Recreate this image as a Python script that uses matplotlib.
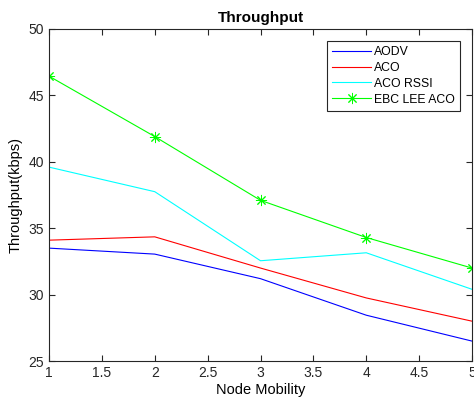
import matplotlib
matplotlib.use("Agg")
import matplotlib.pyplot as plt

plt.rcParams['font.family'] = ['Liberation Sans', 'DejaVu Sans']

mobility = [1, 2, 3, 4, 5]
aodv = [33.5, 33.05, 31.2, 28.45, 26.5]
aco = [34.1, 34.35, 32.0, 29.75, 28.0]
aco_rssi = [39.6, 37.75, 32.55, 33.15, 30.4]
ebc_lee_aco = [46.45, 41.9, 37.1, 34.3, 32.0]


def main():
    fig = plt.figure(figsize=(4.74, 4.05), dpi=100)
    ax = fig.add_axes([0.1034, 0.1086, 0.8924, 0.8198])

    ax.plot(mobility, aodv, color='#0000ff', lw=0.8, label='AODV')
    ax.plot(mobility, aco, color='#ff0000', lw=0.8, label='ACO')
    ax.plot(mobility, aco_rssi, color='#00ffff', lw=0.8, label='ACO RSSI')
    # matlab style '*' marker: 8-spoke asterisk
    ax.plot(mobility, ebc_lee_aco, color='#00ff00', lw=0.8, marker=(8, 2, 0),
            markersize=8, markeredgewidth=0.7, label='EBC LEE ACO')

    ax.set_xlim(1, 5)
    ax.set_ylim(25, 50)
    ax.set_xticks([1, 1.5, 2, 2.5, 3, 3.5, 4, 4.5, 5])
    ax.set_xticklabels(['1', '1.5', '2', '2.5', '3', '3.5', '4', '4.5', '5'])
    ax.set_yticks([25, 30, 35, 40, 45, 50])
    ax.tick_params(direction='in', top=True, right=True, labelsize=10,
                   length=4, width=0.8, colors='#262626')
    for s in ax.spines.values():
        s.set_linewidth(0.8)
        s.set_color('#262626')

    ax.set_xlabel('Node Mobility', fontsize=10.5, labelpad=2)
    ax.set_ylabel('Throughput(kbps)', fontsize=10.5, labelpad=4)
    ax.set_title('Throughput', fontsize=11, fontweight='bold', pad=5)

    leg = ax.legend(loc='upper right', bbox_to_anchor=(460 / 474, 1 - 41 / 405),
                    bbox_transform=fig.transFigure, borderaxespad=0,
                    fontsize=8.8, fancybox=False, framealpha=1,
                    edgecolor='#262626', handlelength=3.2,
                    borderpad=0.4, labelspacing=0.32, handletextpad=0.25)
    leg.get_frame().set_linewidth(0.8)

    fig.savefig('out.png', dpi=100)


if __name__ == '__main__':
    main()
